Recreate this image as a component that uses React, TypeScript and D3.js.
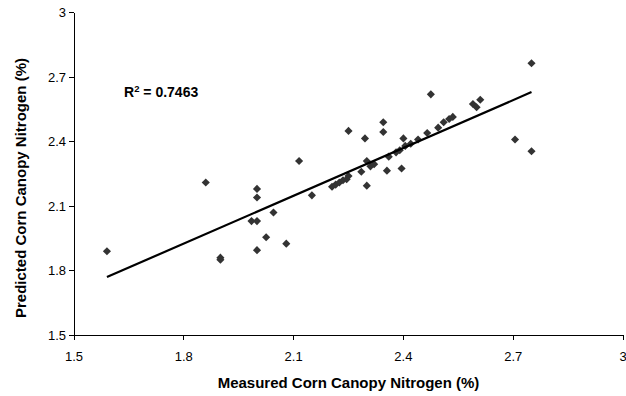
import React from 'react';
import * as d3 from 'd3';

const measured = [
  1.59, 1.86, 1.9, 1.9, 2.0, 2.0, 1.985, 2.0, 2.045, 2.025,
  2.0, 2.08, 2.115, 2.15, 2.205, 2.215, 2.225, 2.235, 2.245, 2.25,
  2.25, 2.285, 2.295, 2.3, 2.3, 2.31, 2.32, 2.345, 2.345, 2.355,
  2.36, 2.38, 2.39, 2.395, 2.4, 2.405, 2.42, 2.44, 2.465, 2.475,
  2.495, 2.51, 2.525, 2.535, 2.59, 2.6, 2.61, 2.705, 2.75, 2.75,
];
const predicted = [
  1.89, 2.21, 1.86, 1.85, 2.18, 2.14, 2.03, 2.03, 2.07, 1.955,
  1.895, 1.925, 2.31, 2.15, 2.19, 2.2, 2.21, 2.22, 2.225, 2.24,
  2.45, 2.26, 2.415, 2.31, 2.195, 2.285, 2.295, 2.49, 2.445, 2.265,
  2.33, 2.35, 2.36, 2.275, 2.415, 2.38, 2.39, 2.41, 2.44, 2.62,
  2.465, 2.49, 2.505, 2.515, 2.575, 2.56, 2.595, 2.41, 2.765, 2.355,
];
const xTicks = [1.5, 1.8, 2.1, 2.4, 2.7, 3];
const yTicks = [1.5, 1.8, 2.1, 2.4, 2.7, 3];
const trendSlope = 0.742;
const trendIntercept = 0.59;
const rSquaredText = '0.7463';
const xTitle = 'Measured Corn Canopy Nitrogen (%)';
const yTitle = 'Predicted Corn Canopy Nitrogen (%)';

export default function App() {
  const W = 626, H = 396;
  const x = d3.scaleLinear().domain([1.5, 3]).range([74, 623]);
  const y = d3.scaleLinear().domain([1.5, 3]).range([335, 12.7]);
  const font = '"Liberation Sans", Arial, sans-serif';
  const diamond = d3.symbol().type(d3.symbolDiamond2).size(42)();
  const xmin = d3.min(measured) as number;
  const xmax = d3.max(measured) as number;
  const trend = d3.line<number>()
    .x(d => x(d))
    .y(d => y(trendIntercept + trendSlope * d))([xmin, xmax]);
  const fmt = (v: number) => String(v);

  return (
    <div style={{ position: 'absolute', left: 0, top: 0 }}>
      <svg width={W} height={H} style={{ display: 'block', background: '#fff' }}>
        <line x1={x(1.5)} x2={x(1.5)} y1={y(3)} y2={y(1.5)} stroke="#000" strokeWidth={1} shapeRendering="crispEdges" />
        <line x1={x(1.5)} x2={x(3)} y1={y(1.5)} y2={y(1.5)} stroke="#000" strokeWidth={1} shapeRendering="crispEdges" />
        {yTicks.map(t => (
          <g key={'y' + t}>
            <line x1={x(1.5) - 5} x2={x(1.5)} y1={y(t)} y2={y(t)} stroke="#000" shapeRendering="crispEdges" />
            <text x={x(1.5) - 8} y={y(t) + 4.5} textAnchor="end" fontFamily={font} fontSize={13} fill="#000">{fmt(t)}</text>
          </g>
        ))}
        {xTicks.map(t => (
          <g key={'x' + t}>
            <line x1={x(t)} x2={x(t)} y1={y(1.5)} y2={y(1.5) + 5} stroke="#000" shapeRendering="crispEdges" />
            <text x={x(t)} y={y(1.5) + 25.5} textAnchor="middle" fontFamily={font} fontSize={13} fill="#000">{fmt(t)}</text>
          </g>
        ))}
        {measured.map((m, i) => (
          <path key={i} d={diamond} transform={`translate(${x(m)},${y(predicted[i])})`} fill="#333" />
        ))}
        <path d={trend || ''} fill="none" stroke="#000" strokeWidth={2.2} />
        <text x={124} y={97} fontFamily={font} fontSize={14} fontWeight="bold" fill="#000">
          R<tspan dy={-5.5} fontSize={9.5}>2</tspan><tspan dy={5.5}> = {rSquaredText}</tspan>
        </text>
        <text x={(x(1.5) + x(3)) / 2} y={388} textAnchor="middle" fontFamily={font} fontSize={15} fontWeight="bold" fill="#000">{xTitle}</text>
        <text transform={`translate(26,188) rotate(-90)`} textAnchor="middle" fontFamily={font} fontSize={15} fontWeight="bold" fill="#000">{yTitle}</text>
      </svg>
    </div>
  );
}
